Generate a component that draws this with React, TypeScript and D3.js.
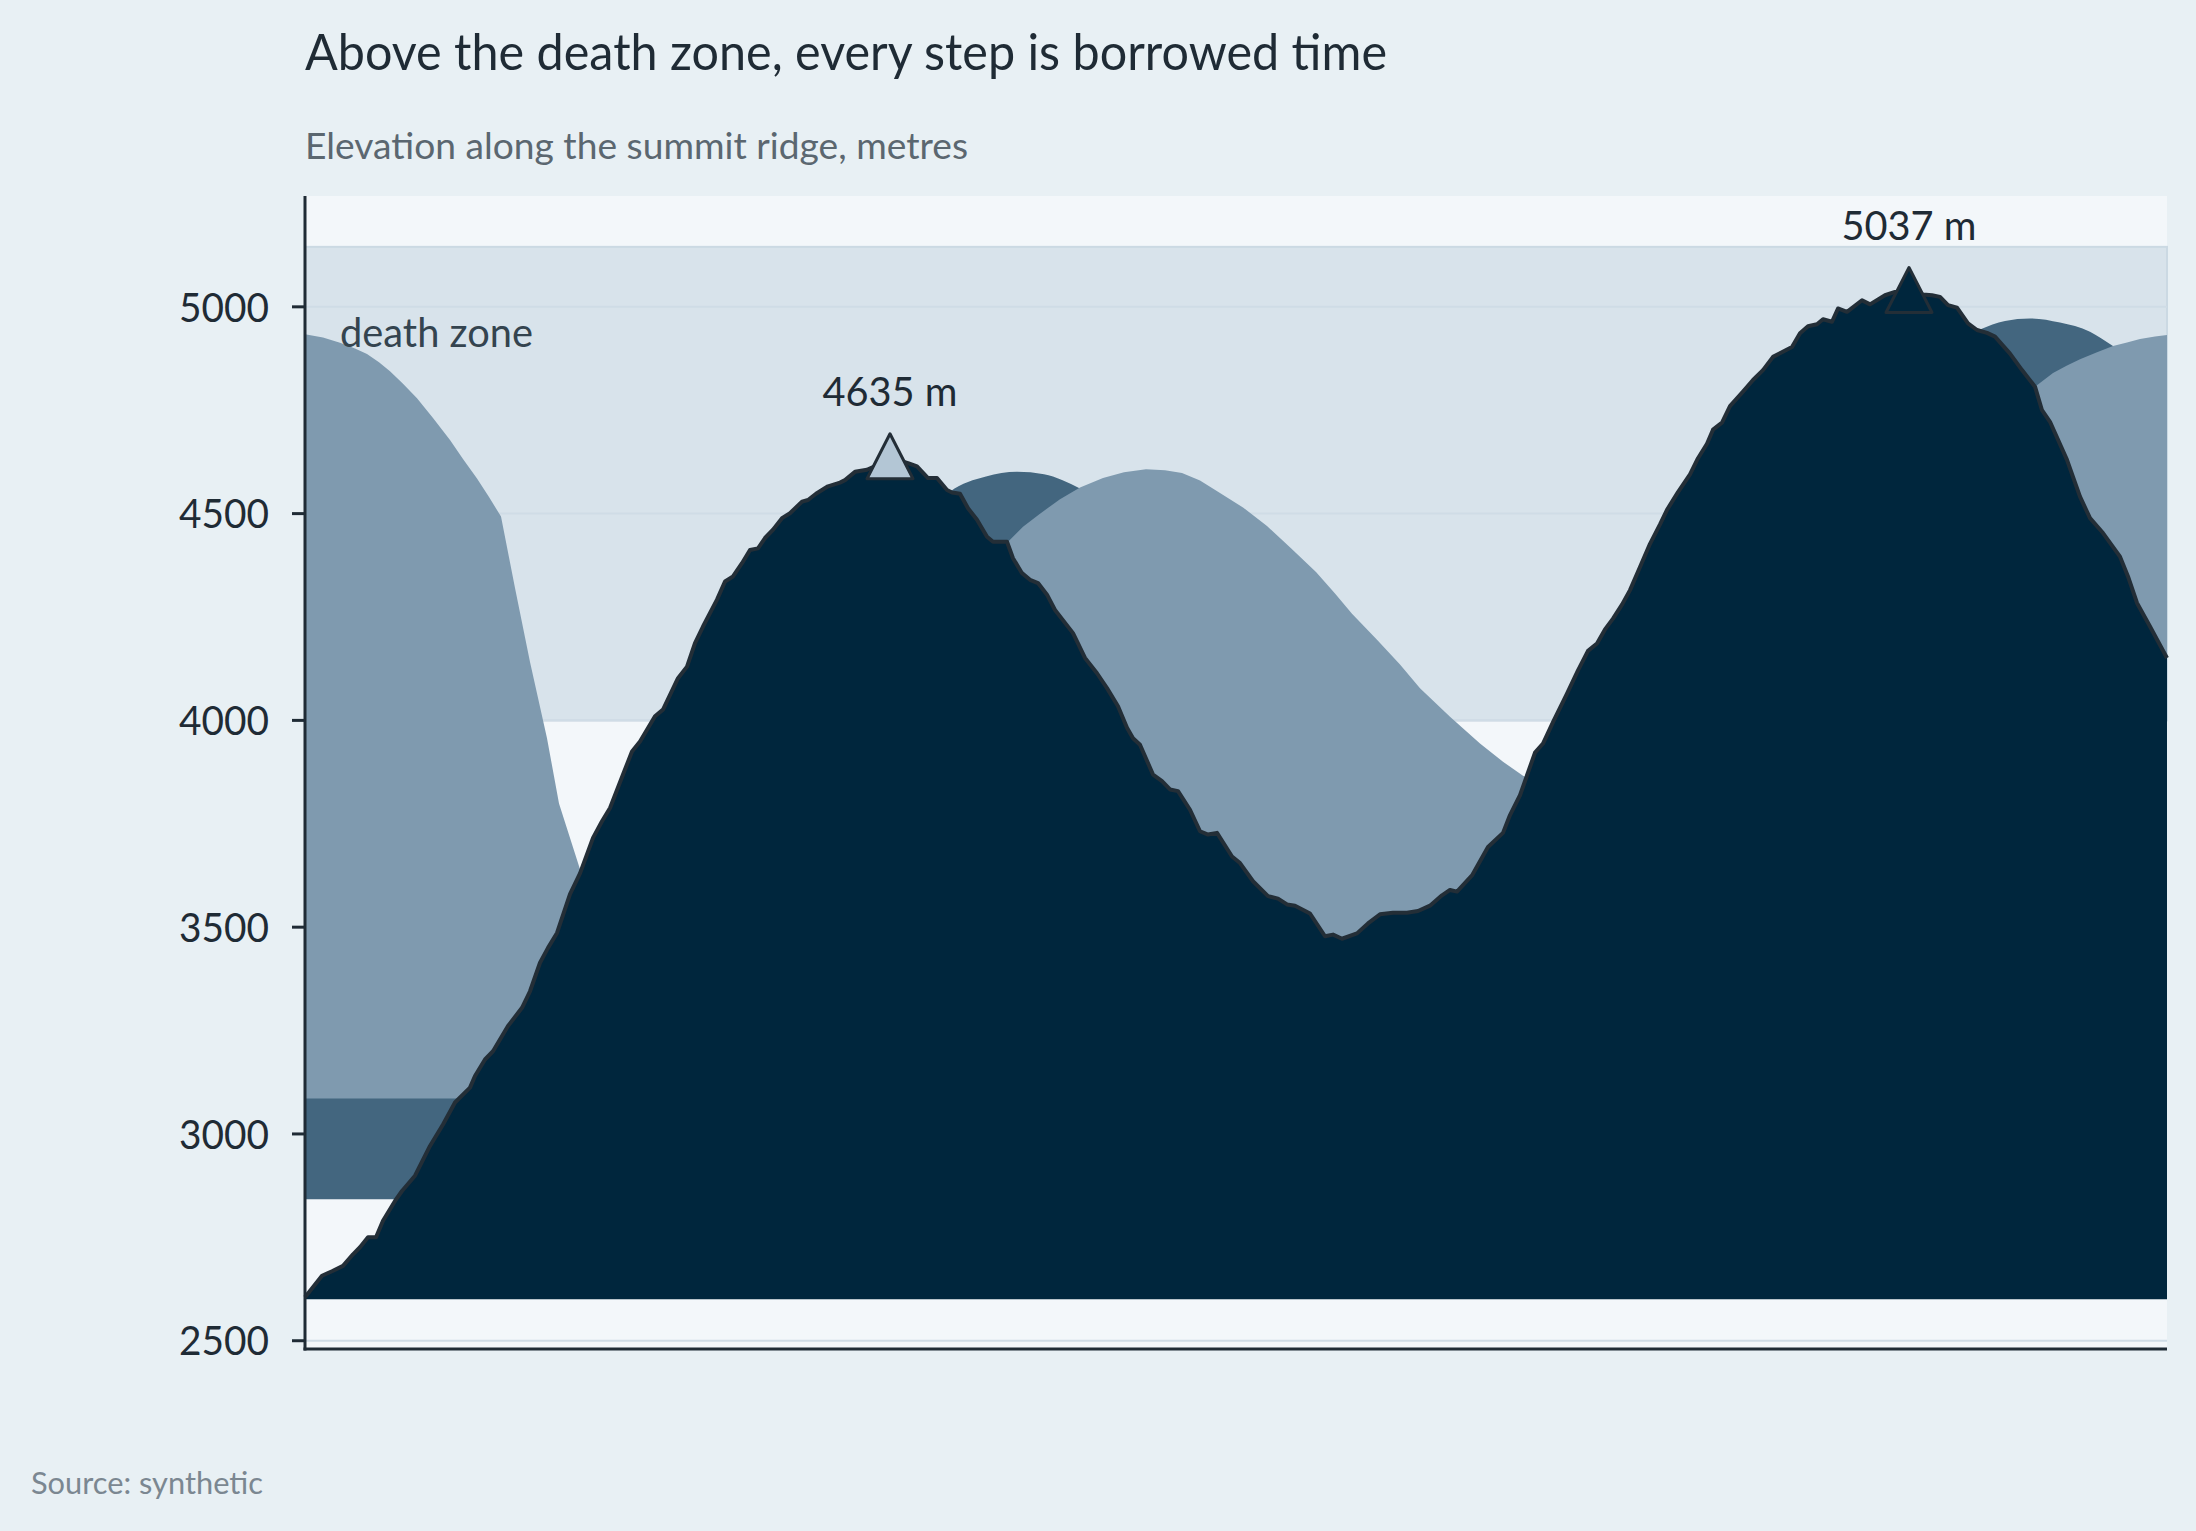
import React from 'react';
import * as d3 from 'd3';

// Front ridge profile: distance along ridge (km) and elevation (m)
const ridgeKm = [0.0, 0.17, 0.27, 0.38, 0.48, 0.55, 0.63, 0.71, 0.78, 0.9, 0.97, 1.1, 1.25, 1.38, 1.5, 1.65, 1.7, 1.8, 1.88, 2.03, 2.17, 2.25, 2.35, 2.43, 2.52, 2.65, 2.75, 2.88, 2.97, 3.05, 3.18, 3.27, 3.35, 3.5, 3.58, 3.73, 3.82, 3.9, 3.98, 4.12, 4.2, 4.28, 4.37, 4.45, 4.53, 4.6, 4.68, 4.77, 4.85, 4.97, 5.03, 5.11, 5.23, 5.35, 5.4, 5.5, 5.62, 5.73, 5.85, 5.95, 6.03, 6.12, 6.23, 6.32, 6.42, 6.47, 6.55, 6.63, 6.72, 6.82, 6.88, 7.02, 7.08, 7.17, 7.25, 7.33, 7.42, 7.5, 7.68, 7.8, 7.92, 8.02, 8.13, 8.22, 8.28, 8.35, 8.48, 8.57, 8.65, 8.73, 8.85, 8.95, 9.03, 9.12, 9.27, 9.35, 9.48, 9.63, 9.73, 9.82, 9.9, 10.05, 10.2, 10.28, 10.37, 10.52, 10.63, 10.75, 10.88, 11.02, 11.13, 11.25, 11.37, 11.45, 11.52, 11.67, 11.83, 11.98, 12.05, 12.15, 12.3, 12.38, 12.48, 12.62, 12.73, 12.83, 12.92, 13.0, 13.08, 13.17, 13.25, 13.35, 13.45, 13.55, 13.62, 13.73, 13.85, 13.93, 14.02, 14.08, 14.17, 14.25, 14.38, 14.48, 14.58, 14.68, 14.87, 14.95, 15.03, 15.12, 15.18, 15.27, 15.33, 15.42, 15.57, 15.65, 15.8, 15.9, 16.04, 16.18, 16.27, 16.35, 16.43, 16.52, 16.63, 16.72, 16.82, 16.9, 17.05, 17.17, 17.3, 17.37, 17.45, 17.62, 17.75, 17.85, 17.98, 18.15, 18.23, 18.32, 18.45, 18.62];
const ridgeElev = [2605, 2657, 2668, 2681, 2709, 2726, 2750, 2750, 2790, 2838, 2862, 2899, 2971, 3023, 3076, 3112, 3140, 3180, 3200, 3261, 3305, 3345, 3414, 3450, 3486, 3580, 3630, 3716, 3756, 3788, 3869, 3925, 3949, 4010, 4026, 4102, 4130, 4187, 4227, 4292, 4336, 4348, 4380, 4412, 4416, 4441, 4461, 4489, 4501, 4529, 4533, 4548, 4566, 4575, 4581, 4601, 4606, 4618, 4635, 4628, 4622, 4614, 4586, 4586, 4557, 4551, 4548, 4513, 4485, 4444, 4432, 4432, 4392, 4356, 4340, 4332, 4304, 4267, 4211, 4151, 4114, 4078, 4034, 3982, 3957, 3941, 3869, 3853, 3833, 3829, 3784, 3732, 3724, 3728, 3671, 3655, 3611, 3575, 3569, 3555, 3552, 3533, 3478, 3482, 3472, 3485, 3509, 3531, 3535, 3535, 3539, 3552, 3577, 3590, 3586, 3625, 3694, 3728, 3771, 3819, 3922, 3944, 3996, 4065, 4121, 4168, 4186, 4220, 4246, 4280, 4315, 4371, 4427, 4474, 4509, 4552, 4595, 4634, 4669, 4703, 4720, 4760, 4795, 4823, 4847, 4879, 4903, 4936, 4953, 4958, 4970, 4964, 4996, 4988, 5016, 5006, 5028, 5036, 5037, 5030, 5028, 5024, 5004, 4998, 4960, 4944, 4937, 4928, 4887, 4847, 4807, 4750, 4722, 4630, 4541, 4489, 4453, 4396, 4348, 4284, 4227, 4151];

// Middle (light) ridge
const midKm = [0.0, 0.18, 0.35, 0.5, 0.62, 0.74, 0.85, 0.98, 1.12, 1.28, 1.45, 1.58, 1.72, 1.84, 1.96, 2.1, 2.25, 2.42, 2.54, 2.75, 2.95, 3.45, 3.95, 4.95, 5.95, 6.55, 6.85, 7.03, 7.18, 7.34, 7.55, 7.75, 7.98, 8.19, 8.41, 8.6, 8.77, 8.95, 9.13, 9.38, 9.62, 9.86, 10.11, 10.3, 10.47, 10.72, 10.95, 11.15, 11.45, 11.75, 11.98, 12.18, 12.55, 12.95, 13.95, 14.95, 15.95, 16.95, 17.3, 17.48, 17.62, 17.75, 17.92, 18.08, 18.22, 18.35, 18.5, 18.62];
const midElev = [4934, 4926, 4913, 4899, 4886, 4866, 4844, 4814, 4779, 4731, 4678, 4632, 4585, 4540, 4493, 4320, 4141, 3957, 3799, 3640, 3560, 3540, 3650, 3950, 4230, 4360, 4410, 4432, 4468, 4498, 4535, 4563, 4586, 4600, 4607, 4605, 4598, 4580, 4553, 4515, 4470, 4416, 4359, 4307, 4258, 4195, 4135, 4078, 4009, 3944, 3900, 3866, 3830, 3820, 3950, 4250, 4540, 4740, 4807, 4840, 4858, 4873, 4890, 4905, 4914, 4922, 4928, 4932];

// Far (darker) ridge
const farKm = [0.0, 1.0, 2.0, 3.0, 4.0, 5.0, 5.95, 6.45, 6.81, 7.12, 7.39, 7.75, 8.19, 8.95, 9.95, 10.95, 11.95, 12.95, 13.95, 14.95, 15.95, 16.45, 16.75, 17.0, 17.25, 17.55, 17.85, 18.08, 18.35, 18.62];
const farElev = [3400, 3350, 3300, 3350, 3600, 4000, 4400, 4553, 4590, 4601, 4595, 4561, 4500, 4340, 4050, 3750, 3550, 3700, 4100, 4500, 4800, 4905, 4945, 4966, 4972, 4962, 4940, 4905, 4860, 4800];

const peakKm = [5.85, 16.04];
const peakElev = [4635, 5037];
const peakFill = ['#b3c6d5', '#00263d'];

const yTicks = [2500, 3000, 3500, 4000, 4500, 5000];
const deathZone = [4000, 5145];
const ridgeBase = 2600;
const midBase = 3086;
const farBase = 2842;

const W = 2196;
const H = 1531;
const PL = 305, PR = 2167, PT = 196, PB = 1349;
const FONT = 'Lato, "Open Sans", sans-serif';

export default function App() {
  React.useEffect(() => {
    document.body.style.margin = '0';
    document.body.style.background = '#e8f0f4';
  }, []);

  const x = d3.scaleLinear().domain([0, 18.62]).range([PL, PR]);
  const y = d3.scaleLinear().domain([2480, 5268]).range([PB, PT]);

  const toPts = (ks: number[], es: number[]) => ks.map((k, i) => [k, es[i]] as [number, number]);
  const ridge = toPts(ridgeKm, ridgeElev);
  const mid = toPts(midKm, midElev);
  const far = toPts(farKm, farElev);

  const areaGen = (base: number, curve: any) =>
    d3.area<[number, number]>().x(d => x(d[0])).y0(y(base)).y1(d => y(d[1])).curve(curve);

  const farPath = areaGen(farBase, d3.curveMonotoneX)(far) || '';
  const midPath = areaGen(midBase, d3.curveLinear)(mid) || '';
  const ridgePath = areaGen(ridgeBase, d3.curveLinear)(ridge) || '';
  const ridgeLine = d3.line<[number, number]>().x(d => x(d[0])).y(d => y(d[1]))(ridge) || '';

  const dark = '#1f2b35';

  return (
    <svg width={W} height={H} style={{ position: 'absolute', left: 0, top: 0, display: 'block' }} fontFamily={FONT}>
      <rect x={0} y={0} width={W} height={H} fill="#e8f0f4" />
      <text x={305} y={70} fontSize={50} fill={dark} textLength={1082} lengthAdjust="spacingAndGlyphs">Above the death zone, every step is borrowed time</text>
      <text x={305} y={159} fontSize={36} fill="#5b6770" textLength={663} lengthAdjust="spacingAndGlyphs">Elevation along the summit ridge, metres</text>

      <rect x={PL} y={PT} width={PR - PL} height={PB - PT} fill="#f3f7fa" />
      <rect x={PL} y={y(deathZone[1])} width={PR - PL} height={y(deathZone[0]) - y(deathZone[1])} fill="#d8e3eb" stroke="#cbd9e3" strokeWidth={2} />
      {yTicks.map(t => (
        <line key={'g' + t} x1={PL} x2={PR} y1={y(t)} y2={y(t)} stroke="#cfdce6" strokeWidth={2} />
      ))}

      <path d={farPath} fill="#43667f" />
      <path d={midPath} fill="#7f9aaf" />
      <path d={ridgePath} fill="#00263d" />
      <path d={ridgeLine} fill="none" stroke="#232e37" strokeWidth={4} strokeLinejoin="round" />

      <text x={PL + 35} y={347} fontSize={40} fill="#34444f" textLength={193} lengthAdjust="spacingAndGlyphs">death zone</text>

      {peakKm.map((k, i) => (
        <g key={'p' + i} transform={`translate(${x(k)},${y(peakElev[i])})`}>
          <path d="M0,-24 L23,21 L-23,21 Z" fill={peakFill[i]} stroke="#232e37" strokeWidth={3} strokeLinejoin="round" />
          <text x={0} y={-52} fontSize={40} textAnchor="middle" fill={dark} textLength={135} lengthAdjust="spacingAndGlyphs">{`${peakElev[i]} m`}</text>
        </g>
      ))}

      <line x1={PL} x2={PL} y1={PT} y2={PB + 1.5} stroke={dark} strokeWidth={3} />
      <line x1={PL - 1.5} x2={PR} y1={PB} y2={PB} stroke={dark} strokeWidth={3} />
      {yTicks.map(t => (
        <g key={'t' + t}>
          <line x1={PL - 13} x2={PL} y1={y(t)} y2={y(t)} stroke={dark} strokeWidth={3} />
          <text x={269} y={y(t)} dy="0.36em" fontSize={41} textAnchor="end" fill={dark} textLength={90} lengthAdjust="spacingAndGlyphs">{t}</text>
        </g>
      ))}

      <text x={31} y={1494} fontSize={31} fill="#7b8791" textLength={232} lengthAdjust="spacingAndGlyphs">Source: synthetic</text>
    </svg>
  );
}
